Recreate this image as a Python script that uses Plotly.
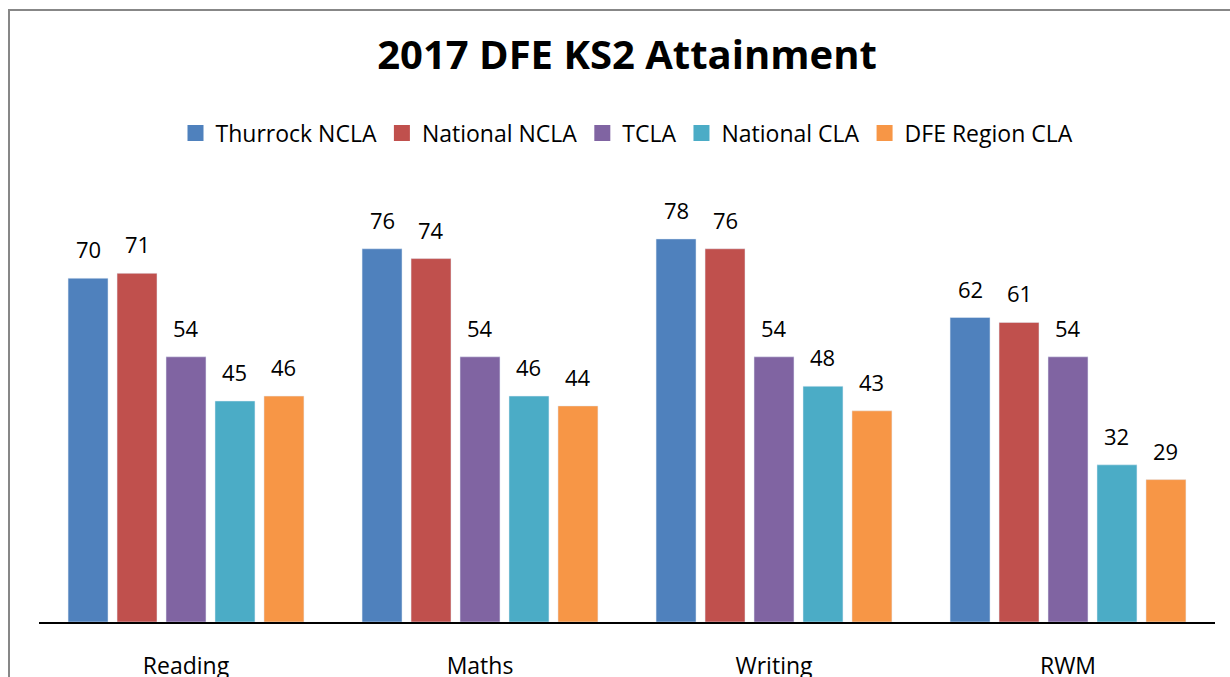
import plotly.graph_objects as go

categories = ["Reading", "Maths", "Writing", "RWM"]
series_names = ["Thurrock NCLA", "National NCLA", "TCLA", "National CLA", "DFE Region CLA"]
thurrock_ncla = [70, 76, 78, 62]
national_ncla = [71, 74, 76, 61]
tcla = [54, 54, 54, 54]
national_cla = [45, 46, 48, 32]
dfe_region_cla = [46, 44, 43, 29]
series_values = [thurrock_ncla, national_ncla, tcla, national_cla, dfe_region_cla]
colors = ["#4F81BD", "#C0504D", "#8064A2", "#4BACC6", "#F79646"]

FONT = "Open Sans"
W, H = 1230, 677
ML, MR, MT, MB = 39, 15, 180, 55
BARGAP = 0.167
GROUPGAP = 0.184

fig = go.Figure()
for name, vals, col in zip(series_names, series_values, colors):
    fig.add_trace(go.Bar(x=categories, y=vals, name=name, marker_color=col,
                         showlegend=False, hoverinfo="x+y+name"))
# legend entries with larger square swatches
for name, col in zip(series_names, colors):
    fig.add_trace(go.Scatter(x=[None], y=[None], name=name, mode="markers",
                             marker=dict(symbol="square", size=16, color=col)))

# data labels placed above each bar
n = len(series_names)
slot = (1 - BARGAP) / n
annotations = []
for i, vals in enumerate(series_values):
    for ci, v in enumerate(vals):
        xc = ci - (1 - BARGAP) / 2 + slot * (i + 0.5)
        annotations.append(dict(x=xc, y=v, xref="x", yref="y", text=str(v),
                                showarrow=False, yanchor="bottom", yshift=12,
                                font=dict(family=FONT, size=22, color="#000000")))

pw = W - ML - MR
ph = H - MT - MB
fig.update_layout(
    width=W, height=H,
    margin=dict(l=ML, r=MR, t=MT, b=MB, autoexpand=False),
    paper_bgcolor="white", plot_bgcolor="white",
    barmode="group", bargap=BARGAP, bargroupgap=GROUPGAP,
    title=dict(text="<b>2017 DFE KS2 Attainment</b>", x=0.5, xref="paper",
               xanchor="center", y=1 - 55 / H, yanchor="middle",
               font=dict(family=FONT, size=40, color="#000000")),
    legend=dict(orientation="h", x=0.5, xanchor="center",
                y=(ph - (133 - MT)) / ph, yanchor="middle",
                font=dict(family=FONT, size=23, color="#000000"),
                itemclick=False, itemdoubleclick=False),
    font=dict(family=FONT, color="#000000"),
    annotations=annotations,
    shapes=[dict(type="rect", xref="paper", yref="paper",
                 x0=(9 - ML) / pw, x1=1.5, y0=-1.0, y1=(H - MB - 10) / ph,
                 line=dict(color="#878787", width=2), fillcolor="rgba(0,0,0,0)",
                 layer="below")],
)
fig.update_xaxes(showline=True, linecolor="#000000", linewidth=2, ticks="",
                 showgrid=False, zeroline=False, automargin=False,
                 ticklabelstandoff=22,
                 tickfont=dict(family=FONT, size=23, color="#000000"))
fig.update_yaxes(range=[0, 90], visible=False, showgrid=False, zeroline=False,
                 automargin=False)

fig.write_html("out.html", config={"displayModeBar": False},
               post_script="document.body.style.margin='0';")
